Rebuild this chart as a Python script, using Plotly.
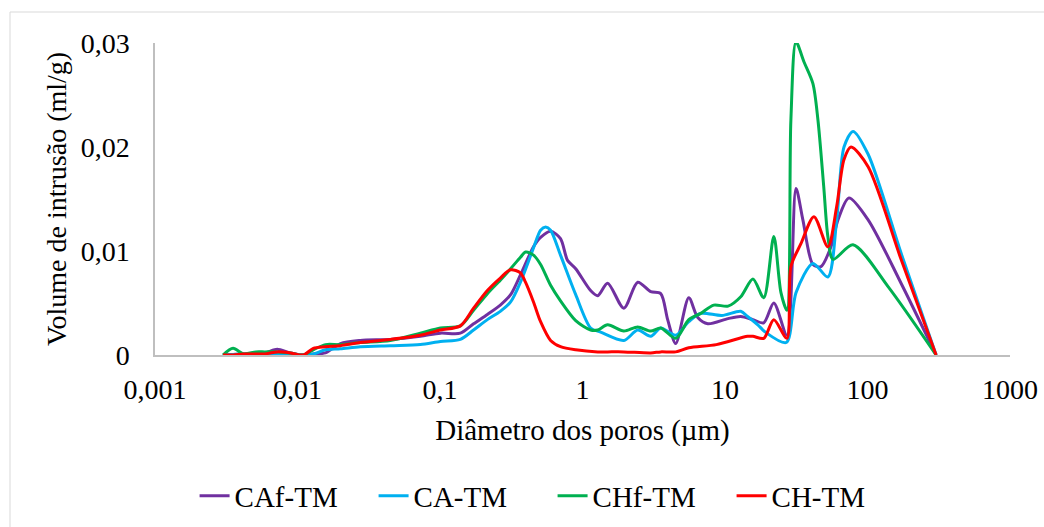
import plotly.graph_objects as go

# ---- data (diameter in µm, intrusion volume in ml/g) ----
caf_d = [0.003, 0.0042, 0.0059, 0.0072, 0.0089, 0.011, 0.0129, 0.0157, 0.020, 0.0276, 0.0448, 0.0728,
         0.1007, 0.139, 0.172, 0.215, 0.265, 0.313, 0.367, 0.453, 0.508, 0.597, 0.701, 0.785, 0.896,
         1.14, 1.28, 1.50, 1.95, 2.44, 3.01, 3.54, 3.96, 4.51, 5.57, 6.44, 7.57, 10.5, 12.9, 15.7,
         18.7, 22.0, 27.2, 31.5, 35.2, 41.4, 47.1, 55.4, 62.1, 74.1, 101, 172, 303]
caf_v = [0, 0.0001, 0.0002, 0.00055, 0.0002, 0.0, 0.0001, 0.0002, 0.0011, 0.0014, 0.0015, 0.0018,
         0.0021, 0.0021, 0.0030, 0.0039, 0.0048, 0.0058, 0.0077, 0.0104, 0.0113, 0.0119, 0.0112, 0.0091, 0.0083,
         0.0062, 0.0057, 0.0069, 0.0045, 0.0070, 0.0061, 0.0059, 0.0034, 0.0011, 0.0055, 0.0036, 0.0030, 0.0035, 0.0037, 0.0034,
         0.0031, 0.0050, 0.0019, 0.0160, 0.0130, 0.0087, 0.0085, 0.0104, 0.0130, 0.0151, 0.0130, 0.0069, 0]

ca_d = [0.003, 0.0042, 0.0059, 0.0072, 0.0089, 0.011, 0.0129, 0.0157, 0.020, 0.0276, 0.0448, 0.0728,
        0.1007, 0.139, 0.172, 0.215, 0.265, 0.313, 0.367, 0.453, 0.508, 0.551, 0.597, 0.701, 0.896,
        1.14, 1.34, 1.95, 2.44, 3.01, 3.54, 4.51, 5.57, 6.76, 9.5, 12.9, 14.4, 17.0, 19.2, 26.9,
        31.5, 41.4, 52.7, 60.8, 68.4, 79.1, 101, 172, 303]
ca_v = [0, 0.0001, 0.0001, 0.0001, 0.0001, 0.0, 0.0001, 0.0005, 0.0006, 0.0008, 0.0009, 0.0010,
        0.0013, 0.0015, 0.0024, 0.0034, 0.0042, 0.0051, 0.0070, 0.0103, 0.0120, 0.0123, 0.0120, 0.0096, 0.0058,
        0.0026, 0.0022, 0.0014, 0.0024, 0.0018, 0.0026, 0.0019, 0.0032, 0.0040, 0.0038, 0.0042, 0.0037, 0.0029, 0.0022, 0.0012,
        0.0060, 0.0088, 0.0075, 0.0130, 0.0200, 0.0215, 0.0193, 0.0098, 0]

chf_d = [0.003, 0.00353, 0.0042, 0.0051, 0.0059, 0.0072, 0.0089, 0.011, 0.0129, 0.0157, 0.020, 0.0276,
         0.0448, 0.0728, 0.1007, 0.139, 0.172, 0.215, 0.265, 0.313, 0.367, 0.398, 0.453, 0.508, 0.597,
         0.701, 0.896, 1.14, 1.28, 1.50, 1.95, 2.44, 3.01, 3.54, 4.51, 5.57, 6.76, 8.34, 10.5, 12.9,
         15.7, 18.7, 22.0, 24.7, 27.2, 29.0, 31.5, 35.8, 41.4, 44.9, 49.3, 52.7, 57.3, 79.1, 139, 303]
chf_v = [0, 0.00064, 0.0001, 0.0003, 0.0003, 0.0003, 0.0002, 0.0, 0.0005, 0.0010, 0.0010, 0.0012,
         0.0014, 0.0021, 0.0026, 0.0028, 0.0043, 0.0059, 0.0072, 0.0083, 0.0094, 0.0099, 0.0096, 0.0087, 0.0067,
         0.0052, 0.0033, 0.0024, 0.0024, 0.0029, 0.0023, 0.0027, 0.0023, 0.0026, 0.0016, 0.0034, 0.0040, 0.0048, 0.0047, 0.0056,
         0.0073, 0.0055, 0.0114, 0.0060, 0.0043, 0.0226, 0.0301, 0.0282, 0.0261, 0.0226, 0.0162, 0.0114, 0.0092, 0.0106, 0.0066, 0]

ch_d = [0.003, 0.00353, 0.0042, 0.0051, 0.0059, 0.0072, 0.0089, 0.011, 0.0129, 0.0157, 0.020, 0.0276,
        0.0448, 0.0728, 0.1007, 0.139, 0.172, 0.215, 0.265, 0.313, 0.367, 0.398, 0.453, 0.508, 0.597,
        0.701, 0.896, 1.28, 1.50, 1.95, 3.01, 3.54, 4.51, 5.57, 8.7, 14.4, 15.7, 18.7, 22.0, 27.2,
        29.0, 34.1, 42.1, 52.7, 60.8, 68.4, 76.6, 101, 172, 303]
ch_v = [0, 0, 0.0001, 0.0001, 0.0001, 0.0003, 0.0002, 0.0, 0.00064, 0.0008, 0.0009, 0.0012,
        0.0015, 0.0019, 0.0024, 0.0028, 0.0045, 0.0062, 0.0074, 0.0082, 0.0079, 0.0070, 0.0051, 0.0032, 0.0014,
        0.0008, 0.0005, 0.0003, 0.0003, 0.0003, 0.0002, 0.0003, 0.0003, 0.0007, 0.0010, 0.0018, 0.0018, 0.0016, 0.0034, 0.0016,
        0.0085, 0.0107, 0.0133, 0.0104, 0.0143, 0.0188, 0.0200, 0.0181, 0.0092, 0]

series_names = ["CAf-TM", "CA-TM", "CHf-TM", "CH-TM"]
series_colors = ["#7030A0", "#00B0F0", "#00B050", "#FF0000"]

x_tickvals = [0.001, 0.01, 0.1, 1, 10, 100, 1000]
x_ticktext = ["0,001", "0,01", "0,1", "1", "10", "100", "1000"]
y_tickvals = [0, 0.01, 0.02, 0.03]
y_ticktext = ["0", "0,01", "0,02", "0,03"]

FONT = "Liberation Serif, Times New Roman, serif"

fig = go.Figure()
for d, v, name, col in zip([caf_d, ca_d, chf_d, ch_d], [caf_v, ca_v, chf_v, ch_v],
                           series_names, series_colors):
    fig.add_trace(go.Scatter(x=d, y=v, mode="lines", name=name,
                             line=dict(color=col, width=3, shape="spline", smoothing=0.8),
                             cliponaxis=False))

fig.update_layout(
    width=1044, height=527,
    margin=dict(l=155, r=34, t=43, b=172, autoexpand=False),
    paper_bgcolor="white", plot_bgcolor="white",
    font=dict(family=FONT, size=28, color="black"),
    showlegend=True,
    legend=dict(orientation="h", x=0.465, xanchor="center", y=-0.37, yanchor="top",
                font=dict(size=29, family=FONT), itemwidth=30, tracegroupgap=0,
                entrywidth=134),
    shapes=[dict(type="rect", xref="paper", yref="paper",
                 x0=(10 - 155) / 855, x1=(1060 - 155) / 855,
                 y0=(355 - 540) / 312, y1=(355 - 12) / 312,
                 line=dict(color="#D9D9D9", width=1), fillcolor="rgba(0,0,0,0)", layer="below")],
)
fig.update_xaxes(type="log", range=[-3, 3], tickvals=x_tickvals, ticktext=x_ticktext,
                 showgrid=False, zeroline=False, showline=True, linecolor="#BFBFBF", linewidth=1.5,
                 ticks="", ticklabelstandoff=9, automargin=False,
                 title=dict(text="Diâmetro dos poros (µm)", font=dict(size=29, family=FONT), standoff=15))
fig.update_yaxes(range=[0, 0.03], tickvals=y_tickvals, ticktext=y_ticktext,
                 showgrid=False, zeroline=False, showline=True, linecolor="#BFBFBF", linewidth=1.5,
                 ticks="", ticklabelstandoff=18, automargin=False,
                 title=dict(text="Volume de intrusão (ml/g)", font=dict(size=28, family=FONT), standoff=6))

fig.write_html("out.html")
